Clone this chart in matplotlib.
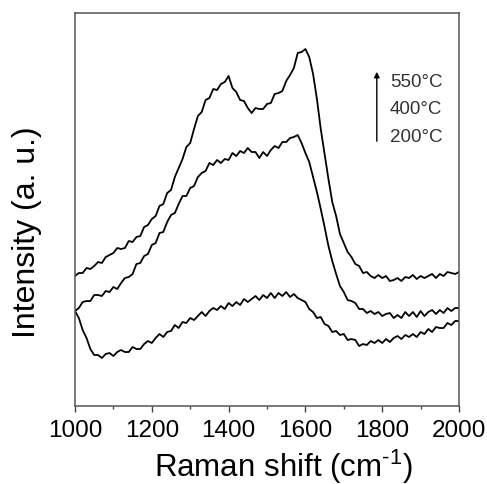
import matplotlib
matplotlib.use("Agg")
import matplotlib.pyplot as plt

plt.rcParams['font.family'] = ['Liberation Sans', 'DejaVu Sans']
plt.rcParams['mathtext.fontset'] = 'custom'
plt.rcParams['mathtext.rm'] = 'Liberation Sans'
plt.rcParams['mathtext.it'] = 'Liberation Sans'

# Raman shift (cm^-1): sample positions every 10 cm^-1
raman_shift = list(range(1000, 2001, 10))

# Intensities (a.u., arbitrary vertical offsets)
int_550 = [130, 133, 133, 138, 137, 140, 144, 143, 149, 151,
           153, 158, 157, 158, 165, 164, 169, 170, 179, 181,
           187, 190, 200, 202, 213, 216, 229, 238, 247, 259,
           263, 277, 290, 294, 306, 308, 317, 316, 322, 324,
           330, 318, 314, 306, 305, 298, 293, 298, 297, 297,
           302, 303, 312, 313, 315, 325, 331, 338, 353, 354,
           357, 349, 332, 307, 277, 252, 227, 204, 190, 172,
           163, 154, 149, 142, 140, 133, 134, 130, 128, 131,
           128, 130, 125, 126, 128, 125, 129, 128, 131, 127,
           130, 128, 130, 132, 128, 132, 130, 134, 133, 132,
           134]

int_400 = [95, 98, 104, 105, 105, 111, 111, 110, 115, 114,
           119, 117, 123, 128, 129, 132, 142, 143, 150, 152,
           161, 163, 173, 174, 184, 191, 193, 202, 210, 210,
           218, 220, 229, 233, 235, 243, 241, 246, 243, 247,
           246, 253, 250, 255, 253, 258, 254, 254, 248, 254,
           250, 256, 260, 258, 264, 264, 268, 269, 271, 263,
           253, 244, 229, 214, 197, 179, 160, 145, 132, 120,
           114, 106, 105, 103, 97, 97, 93, 95, 92, 94,
           90, 92, 93, 88, 91, 88, 94, 90, 94, 89,
           95, 90, 94, 96, 92, 96, 93, 98, 95, 98,
           98]

int_200 = [95, 88, 76, 68, 57, 51, 51, 48, 52, 53,
           50, 54, 56, 54, 54, 59, 57, 57, 62, 65,
           63, 68, 72, 69, 74, 75, 81, 78, 84, 83,
           88, 86, 90, 94, 90, 95, 98, 96, 100, 97,
           103, 100, 104, 101, 107, 104, 107, 110, 106, 111,
           108, 113, 108, 113, 110, 114, 109, 112, 108, 106,
           104, 97, 94, 88, 89, 82, 80, 74, 75, 71,
           72, 66, 67, 66, 60, 62, 61, 65, 63, 66,
           63, 67, 64, 68, 70, 67, 71, 69, 72, 69,
           74, 72, 77, 74, 79, 78, 78, 83, 81, 85,
           85]

legend_labels = ['550°C', '400°C', '200°C']
x_ticks = [1000, 1200, 1400, 1600, 1800, 2000]

fig = plt.figure(figsize=(4.87, 4.85), dpi=100)
ax = fig.add_axes([0.154, 0.1608, 0.7885, 0.8103])

for ys in [int_550, int_400, int_200]:
    ax.plot(raman_shift, ys, color='black', lw=1.3)

ax.set_xlim(1000, 2000)
ax.set_ylim(0, 393)
ax.set_xticks(x_ticks)
ax.set_xticks(range(1100, 2000, 200), minor=True)
ax.set_yticks([])
ax.tick_params(axis='x', which='major', direction='out', length=4, width=1, colors='#444',
               labelsize=17.5, labelcolor='black', pad=5)
ax.tick_params(axis='x', which='minor', direction='out', length=2.5, width=1, colors='#444')
for s in ax.spines.values():
    s.set_color('#555')
    s.set_linewidth(1.1)

ax.set_xlabel(r'Raman shift (cm$^{\text{-1}}$)', fontsize=22.5, va='baseline')
ax.xaxis.set_label_coords(0.543, -0.178)
ax.set_ylabel('Intensity (a. u.)', fontsize=23, va='center')
ax.yaxis.set_label_coords(-0.125, 0.445)

# legend arrow and labels
ax.annotate('', xy=(1786, 337), xytext=(1786, 262),
            arrowprops=dict(arrowstyle='-|>', color='black', lw=1, mutation_scale=8))
for lab, yv in zip(legend_labels, [325, 298, 270]):
    ax.text(1820, yv, lab, fontsize=13.5, color='#333', va='center', ha='left')

fig.savefig('out.png', dpi=100)
